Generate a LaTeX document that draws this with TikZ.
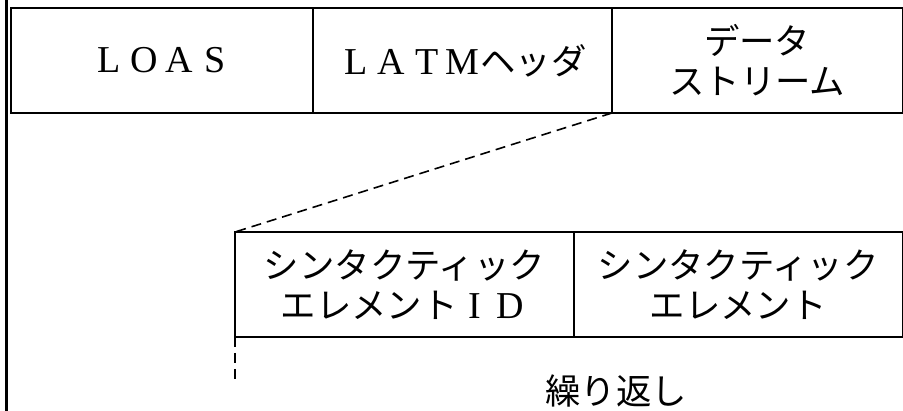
\documentclass[tikz,border=0pt]{standalone}
\usepackage{fontspec}
\newfontfamily\jpfont{Noto Sans CJK JP}
\newfontfamily\latfont{Liberation Serif}
\newcommand\fwl[1]{\makebox[35.4pt]{\latfont\fontsize{38}{40}\selectfont #1}}
\tikzset{
  cell/.style={draw, line width=1.7pt, inner sep=0pt, outer sep=0pt, align=center,
    font=\jpfont\fontsize{35.4}{40}\selectfont},
  lbl/.style={inner sep=0pt, font=\jpfont\fontsize{35.4}{40}\selectfont},
  dashline/.style={line width=1.6pt, dash pattern=on 10pt off 6pt},
}
\begin{document}
\begin{tikzpicture}[x=1pt,y=1pt]
\useasboundingbox (0,0) rectangle (903,-411);
% left border line
\coordinate (lt) at (6.5,0);
\coordinate (lb) at (6.5,-411);
\draw[line width=2.5pt] (lt) -- (lb);
% top row
\node[cell, minimum width=302pt, minimum height=105pt] (loas) at (162,-60.5)
  {\fwl{L}\fwl{O}\fwl{A}\fwl{S}};
\node[cell, minimum width=299pt, minimum height=105pt] (latm) at (462.5,-60.5)
  {\fwl{L}\fwl{A}\fwl{T}\fwl{M}ヘッダ};
\node[cell, minimum width=290.5pt, minimum height=105pt] (data) at (757.25,-60.5)
  {データ\\ストリーム};
% second row
\node[cell, minimum width=339pt, minimum height=105pt] (seid) at (404.5,-284.5)
  {シンタクティック\\エレメント\fwl{I}\fwl{D}};
\node[cell, minimum width=328.5pt, minimum height=105pt] (se) at (738.25,-284.5)
  {シンタクティック\\エレメント};
% dashed connectors
\draw[dashline] (data.south west) -- (seid.north west);
\coordinate (rep) at (235,-380);
\draw[dashline] (seid.south west) -- (rep);
% repeat label
\node[lbl] (rlabel) at (616,-391) {繰り返し};
\end{tikzpicture}
\end{document}
